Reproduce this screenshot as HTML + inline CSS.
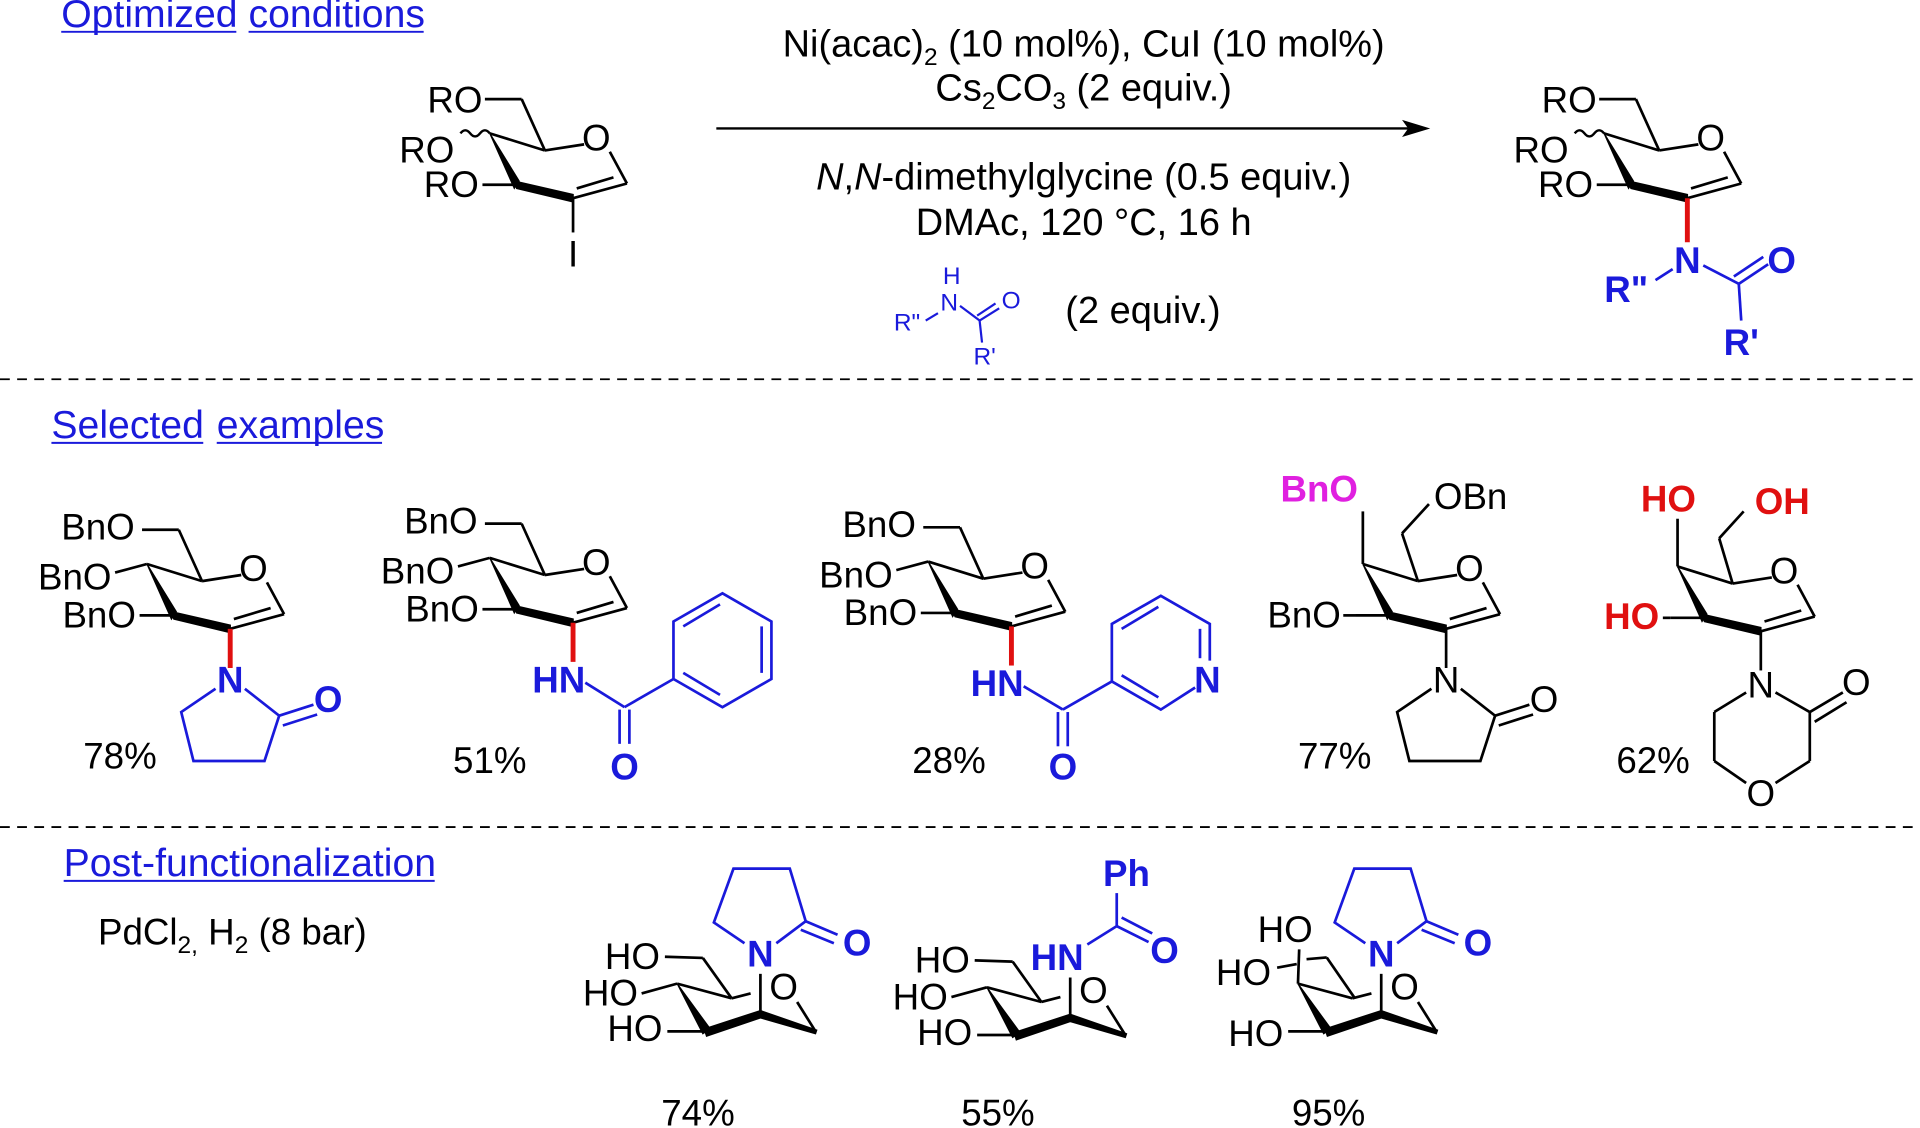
<!DOCTYPE html>
<html><head><meta charset="utf-8"><style>
html,body{margin:0;padding:0;background:#fff}
svg{display:block}
text{font-family:"Liberation Sans",Arial,sans-serif;font-size:30px}
.b{fill:#1a1adb;font-size:32px}.bb{fill:#1a1adb;font-weight:bold}.r{fill:#e01010;font-weight:bold}.m{fill:#e020e0;font-weight:bold}
.s{font-size:20px;fill:#1a1adb}
.c{font-size:31px}
</style></head><body>
<svg width="1920" height="1128" viewBox="0 0 1568 922" preserveAspectRatio="none" xmlns="http://www.w3.org/2000/svg">
<defs>
<g id="ring" stroke="#000" stroke-width="2.2" fill="none">
  <polygon points="-68,-53 -48,-8 -44,-14" fill="#000" stroke-width="1"/>
  <polygon points="-48,-14 0,-3 0,3 -46,-8" fill="#000" stroke-width="1.2"/>
  <line x1="0" y1="0" x2="44" y2="-12"/>
  <line x1="3" y1="-8" x2="33" y2="-17"/>
  <line x1="44" y1="-12" x2="30" y2="-38"/>
  <line x1="9" y1="-44" x2="-23" y2="-39"/>
  <line x1="-23" y1="-39" x2="-68" y2="-53"/>
  <line x1="-46" y1="-11" x2="-74" y2="-11"/>
</g>
<g id="c6" stroke="#000" stroke-width="2.2" fill="none">
  <line x1="-23" y1="-39" x2="-42" y2="-81"/>
  <line x1="-42" y1="-81" x2="-72" y2="-81"/>
</g>
<g id="chair" stroke="#000" stroke-width="2.2" fill="none">
  <line x1="-68" y1="25" x2="-23.5" y2="37"/>
  <line x1="-23.5" y1="37" x2="-8" y2="33"/>
  <line x1="0" y1="17" x2="0" y2="50"/>
  <polygon points="-68,25 -47,66 -41,62" fill="#000" stroke-width="1"/>
  <polygon points="-46,62 0,47 0,53 -44,68" fill="#000" stroke-width="1"/>
  <polygon points="0,47 46,63 45,66 0,53" fill="#000" stroke-width="1"/>
  <line x1="30" y1="40" x2="45" y2="64"/>
  <line x1="-76" y1="64" x2="-44" y2="64"/>
</g>
<g id="pyrup" fill="none" stroke="#1a1adb" stroke-width="2.2">
  <polyline points="-13,-8 -38,-25 -22,-69 24,-69 37,-26 13,-8"/>
  <line x1="37" y1="-26" x2="63" y2="-15"/>
  <line x1="33" y1="-19" x2="60" y2="-8"/>
</g>
<g id="pyr" fill="none" stroke-width="2.2">
  <polyline points="-12,8 -40,27 -30,67 28,67 40,30 12,8"/>
  <line x1="40" y1="30" x2="68" y2="21"/>
  <line x1="43" y1="38" x2="71" y2="29"/>
</g>
</defs>

<!-- header -->
<text x="50" y="22" class="b">Optimized</text><text x="203" y="22" class="b">conditions</text>
<g stroke="#1a1adb" stroke-width="1.6"><line x1="50" y1="26" x2="193" y2="26"/><line x1="203" y1="26" x2="346" y2="26"/>
<line x1="42" y1="362" x2="166" y2="362"/><line x1="177" y1="362" x2="312" y2="362"/><line x1="52" y1="720" x2="355" y2="720"/></g>
<text x="885" y="46" text-anchor="middle" class="c">Ni(acac)<tspan font-size="20" dy="7">2</tspan><tspan dy="-7"> (10 mol%), CuI (10 mol%)</tspan></text>
<text x="885" y="82" text-anchor="middle" class="c">Cs<tspan font-size="20" dy="7">2</tspan><tspan dy="-7">CO</tspan><tspan font-size="20" dy="7">3</tspan><tspan dy="-7"> (2 equiv.)</tspan></text>
<line x1="585" y1="105" x2="1150" y2="105" stroke="#000" stroke-width="2"/>
<polygon points="1168,105 1145,98 1150,105 1145,112" fill="#000"/>
<text x="885" y="155" text-anchor="middle" class="c"><tspan font-style="italic">N</tspan>,<tspan font-style="italic">N</tspan>-dimethylglycine (0.5 equiv.)</text>
<text x="885" y="192" text-anchor="middle" class="c">DMAc, 120 °C, 16 h</text>
<text x="870" y="264" class="c">(2 equiv.)</text>
<!-- amide reagent -->
<text x="730" y="270" class="s">R"</text><text x="768" y="254" class="s">N</text><text x="770" y="232" class="s">H</text><text x="818" y="252" class="s">O</text><text x="795" y="298" class="s">R'</text>
<g stroke="#1a1adb" stroke-width="1.8"><line x1="756" y1="262" x2="766" y2="256"/><line x1="784" y1="250" x2="800" y2="262"/><line x1="800" y1="262" x2="816" y2="252"/><line x1="798" y1="258" x2="813" y2="248"/><line x1="800" y1="262" x2="802" y2="280"/></g>

<!-- reactant -->
<g transform="translate(468,162)">
<use href="#ring"/><use href="#c6"/>
<path d="M-68,-53 q-4,-5 -8,0 t-8,0 t-8,0" stroke="#000" stroke-width="2" fill="none"/>
<text x="-74" y="-70" text-anchor="end">RO</text><text x="-97" y="-29" text-anchor="end">RO</text><text x="-77" y="-1" text-anchor="end">RO</text>
<text x="19" y="-39" text-anchor="middle">O</text>
<line x1="0" y1="0" x2="0" y2="28" stroke="#000" stroke-width="2.2"/><text x="0" y="56" text-anchor="middle">I</text>
</g>

<!-- product -->
<g transform="translate(1378,162)">
<use href="#ring"/><use href="#c6"/>
<path d="M-68,-53 q-4,-5 -8,0 t-8,0 t-8,0" stroke="#000" stroke-width="2" fill="none"/>
<text x="-74" y="-70" text-anchor="end">RO</text><text x="-97" y="-29" text-anchor="end">RO</text><text x="-77" y="-1" text-anchor="end">RO</text>
<text x="19" y="-39" text-anchor="middle">O</text>
<line x1="0" y1="0" x2="0" y2="36" stroke="#e01010" stroke-width="4"/>
<text x="0" y="61" text-anchor="middle" class="bb">N</text>
<g stroke="#1a1adb" stroke-width="2.2"><line x1="-12" y1="58" x2="-26" y2="67"/><line x1="13" y1="55" x2="42" y2="70"/><line x1="42" y1="70" x2="66" y2="54"/><line x1="38" y1="64" x2="62" y2="48"/><line x1="42" y1="70" x2="44" y2="100"/></g>
<text x="77" y="61" text-anchor="middle" class="bb">O</text><text x="-32" y="85" text-anchor="end" class="bb">R"</text><text x="44" y="128" text-anchor="middle" class="bb">R'</text>
</g>

<line x1="0" y1="310" x2="1568" y2="310" stroke="#000" stroke-width="1.5" stroke-dasharray="8,6"/>
<line x1="0" y1="676" x2="1568" y2="676" stroke="#000" stroke-width="1.5" stroke-dasharray="8,6"/>

<text x="42" y="358" class="b">Selected</text><text x="177" y="358" class="b">examples</text>

<!-- ex1 -->
<g transform="translate(188,514)">
<use href="#ring"/><use href="#c6"/>
<line x1="-68" y1="-53" x2="-94" y2="-46" stroke="#000" stroke-width="2.2"/>
<text x="-78" y="-73" text-anchor="end">BnO</text><text x="-97" y="-32" text-anchor="end">BnO</text><text x="-77" y="-1" text-anchor="end">BnO</text>
<text x="19" y="-39" text-anchor="middle">O</text>
<line x1="0" y1="0" x2="0" y2="32" stroke="#e01010" stroke-width="4"/>
<text x="0" y="52" text-anchor="middle" class="bb">N</text>
<use href="#pyr" y="41" stroke="#1a1adb"/>
<text x="80" y="68" text-anchor="middle" class="bb">O</text>
</g>
<text x="68" y="628">78%</text>

<!-- ex2 -->
<g transform="translate(468,509)">
<use href="#ring"/><use href="#c6"/>
<line x1="-68" y1="-53" x2="-94" y2="-46" stroke="#000" stroke-width="2.2"/>
<text x="-78" y="-73" text-anchor="end">BnO</text><text x="-97" y="-32" text-anchor="end">BnO</text><text x="-77" y="-1" text-anchor="end">BnO</text>
<text x="19" y="-39" text-anchor="middle">O</text>
<line x1="0" y1="0" x2="0" y2="32" stroke="#e01010" stroke-width="4"/>
<text x="10" y="57" text-anchor="end" class="bb">HN</text>
</g>
<g stroke="#1a1adb" stroke-width="2.2" fill="none"><line x1="478" y1="558" x2="510" y2="578"/><line x1="506" y1="580" x2="506" y2="608"/><line x1="514" y1="580" x2="514" y2="608"/><line x1="510" y1="578" x2="550" y2="555"/>
<polygon points="550,555 550,508 590,485 630,508 630,555 590,578"/><line x1="558" y1="512" x2="588" y2="494"/><line x1="622" y1="512" x2="622" y2="550"/><line x1="558" y1="550" x2="588" y2="568"/></g>
<text x="510" y="637" text-anchor="middle" class="bb">O</text>
<text x="370" y="632">51%</text>

<!-- ex3 -->
<g transform="translate(826,512)">
<use href="#ring"/><use href="#c6"/>
<line x1="-68" y1="-53" x2="-94" y2="-46" stroke="#000" stroke-width="2.2"/>
<text x="-78" y="-73" text-anchor="end">BnO</text><text x="-97" y="-32" text-anchor="end">BnO</text><text x="-77" y="-1" text-anchor="end">BnO</text>
<text x="19" y="-39" text-anchor="middle">O</text>
<line x1="0" y1="0" x2="0" y2="32" stroke="#e01010" stroke-width="4"/>
<text x="10" y="57" text-anchor="end" class="bb">HN</text>
</g>
<g stroke="#1a1adb" stroke-width="2.2" fill="none"><line x1="836" y1="561" x2="868" y2="580"/><line x1="864" y1="582" x2="864" y2="610"/><line x1="872" y1="582" x2="872" y2="610"/><line x1="868" y1="580" x2="908" y2="557"/>
<polyline points="908,557 908,510 948,487 988,510 988,540"/><polyline points="976,562 948,580 908,557"/><line x1="916" y1="514" x2="946" y2="496"/><line x1="980" y1="514" x2="980" y2="538"/><line x1="916" y1="552" x2="946" y2="570"/></g>
<text x="986" y="566" text-anchor="middle" class="bb">N</text>
<text x="868" y="637" text-anchor="middle" class="bb">O</text>
<text x="745" y="632">28%</text>

<!-- ex4 -->
<g transform="translate(1181,514)">
<use href="#ring"/>
<g stroke="#000" stroke-width="2.2"><line x1="-68" y1="-53" x2="-68" y2="-96"/><line x1="-23" y1="-39" x2="-36" y2="-78"/><line x1="-36" y1="-78" x2="-14" y2="-102"/><line x1="-74" y1="-11" x2="-84" y2="-11"/></g>
<text x="-72" y="-104" text-anchor="end" class="m">BnO</text><text x="-10" y="-98">OBn</text><text x="-86" y="-1" text-anchor="end">BnO</text>
<text x="19" y="-39" text-anchor="middle">O</text>
<line x1="0" y1="0" x2="0" y2="32" stroke="#000" stroke-width="2.2"/>
<text x="0" y="52" text-anchor="middle">N</text>
<use href="#pyr" y="41" stroke="#000"/>
<text x="80" y="68" text-anchor="middle">O</text>
</g>
<text x="1060" y="628">77%</text>

<!-- ex5 -->
<g transform="translate(1438,516)">
<use href="#ring"/>
<g stroke="#000" stroke-width="2.2"><line x1="-68" y1="-53" x2="-68" y2="-92"/><line x1="-23" y1="-39" x2="-34" y2="-76"/><line x1="-34" y1="-76" x2="-14" y2="-98"/><line x1="-74" y1="-11" x2="-80" y2="-11"/></g>
<text x="-98" y="-98" class="r">HO</text><text x="-5" y="-96" class="r">OH</text><text x="-83" y="-2" text-anchor="end" class="r">HO</text>
<text x="19" y="-39" text-anchor="middle">O</text>
<line x1="0" y1="0" x2="0" y2="32" stroke="#000" stroke-width="2.2"/>
<text x="0" y="54" text-anchor="middle">N</text>
<g stroke="#000" stroke-width="2.2" fill="none"><line x1="12" y1="50" x2="40" y2="66"/><line x1="40" y1="66" x2="67" y2="50"/><line x1="44" y1="74" x2="70" y2="58"/><line x1="40" y1="66" x2="40" y2="106"/><line x1="40" y1="106" x2="12" y2="124"/><line x1="-12" y1="124" x2="-38" y2="106"/><line x1="-38" y1="106" x2="-38" y2="66"/><line x1="-38" y1="66" x2="-12" y2="50"/></g>
<text x="78" y="52" text-anchor="middle">O</text><text x="0" y="143" text-anchor="middle">O</text>
</g>
<text x="1320" y="632">62%</text>

<text x="52" y="716" class="b">Post-functionalization</text>
<text x="80" y="772">PdCl<tspan font-size="20" dy="7">2,</tspan><tspan dy="-7"> H</tspan><tspan font-size="20" dy="7">2</tspan><tspan dy="-7"> (8 bar)</tspan></text>

<!-- post 1 -->
<g transform="translate(621,779)">
<use href="#chair"/>
<g stroke="#000" stroke-width="2.2"><line x1="-78" y1="3" x2="-47" y2="4"/><line x1="-47" y1="4" x2="-23.5" y2="37"/><line x1="-97" y1="33" x2="-68" y2="25"/></g>
<text x="-82" y="13" text-anchor="end">HO</text><text x="-100" y="43" text-anchor="end">HO</text><text x="-80" y="72" text-anchor="end">HO</text>
<text x="19" y="38" text-anchor="middle">O</text>
<text x="0" y="11" text-anchor="middle" class="bb">N</text>
<use href="#pyrup"/>
<text x="79" y="2" text-anchor="middle" class="bb">O</text>
</g>
<text x="540" y="920">74%</text>

<!-- post 2 -->
<g transform="translate(874,782)">
<use href="#chair"/>
<g stroke="#000" stroke-width="2.2"><line x1="-78" y1="3" x2="-47" y2="4"/><line x1="-47" y1="4" x2="-23.5" y2="37"/><line x1="-97" y1="33" x2="-68" y2="25"/></g>
<text x="-82" y="13" text-anchor="end">HO</text><text x="-100" y="43" text-anchor="end">HO</text><text x="-80" y="72" text-anchor="end">HO</text>
<text x="19" y="38" text-anchor="middle">O</text>
<text x="11" y="11" text-anchor="end" class="bb">HN</text>
<g stroke="#1a1adb" stroke-width="2.2"><line x1="14" y1="-10" x2="38" y2="-25"/><line x1="38" y1="-25" x2="38" y2="-52"/><line x1="38" y1="-25" x2="64" y2="-12"/><line x1="42" y1="-32" x2="67" y2="-19"/></g>
<text x="46" y="-58" text-anchor="middle" class="bb">Ph</text><text x="77" y="5" text-anchor="middle" class="bb">O</text>
</g>
<text x="785" y="920">55%</text>

<!-- post 3 -->
<g transform="translate(1128,779)">
<use href="#chair"/>
<g stroke="#000" stroke-width="2.2"><line x1="-68" y1="25" x2="-67" y2="-3"/><line x1="-85" y1="12" x2="-69" y2="9"/><line x1="-61" y1="5" x2="-44.5" y2="3.6"/><line x1="-44.5" y1="3.6" x2="-21.5" y2="37"/></g>
<text x="-56" y="-9" text-anchor="end">HO</text><text x="-90" y="26" text-anchor="end">HO</text><text x="-80" y="76" text-anchor="end">HO</text>
<text x="19" y="38" text-anchor="middle">O</text>
<text x="0" y="11" text-anchor="middle" class="bb">N</text>
<use href="#pyrup"/>
<text x="79" y="2" text-anchor="middle" class="bb">O</text>
</g>
<text x="1055" y="920">95%</text>
</svg>
</body></html>
